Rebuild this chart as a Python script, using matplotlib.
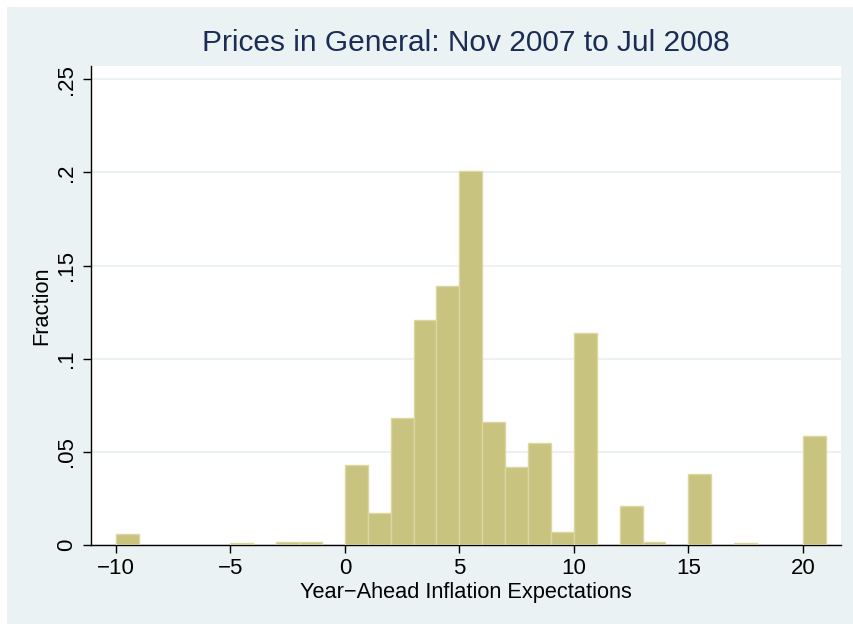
import matplotlib.pyplot as plt
from matplotlib.patches import Rectangle

# histogram bins (left edges, width 1) and fractions
bin_left = list(range(-10, 21))
fraction = [0.0061, 0, 0, 0, 0, 0.0009, 0, 0.0016, 0.0016, 0,
            0.0432, 0.0170, 0.0679, 0.1209, 0.1392, 0.2010, 0.0659, 0.0420, 0.0550, 0.0068,
            0.1138, 0, 0.0212, 0.0016, 0, 0.0382, 0, 0.0009, 0, 0,
            0.0587]
x_ticks = [-10, -5, 0, 5, 10, 15, 20]
y_ticks = [0, 0.05, 0.1, 0.15, 0.2, 0.25]
y_labels = ['0', '.05', '.1', '.15', '.2', '.25']

plt.rcParams['font.family'] = ['Liberation Sans', 'DejaVu Sans']

fig = plt.figure(figsize=(8.54, 6.24), dpi=100)
fig.patch.set_facecolor('white')
# stata-like graph region
fig.patches.append(Rectangle((7 / 854, 0), 1 - 7 / 854, 1 - 7 / 624,
                             transform=fig.transFigure, facecolor='#EAF2F3',
                             edgecolor='none', zorder=-10))

ax = fig.add_axes([91 / 854, 79 / 624, 750 / 854, 479 / 624])
ax.set_facecolor('white')

xs = [b for b, f in zip(bin_left, fraction) if f > 0]
hs = [f for f in fraction if f > 0]
ax.bar(xs, hs, width=1, align='edge', color='#C9C380', edgecolor='#DCD7A2',
       linewidth=1, zorder=3)

ax.set_xlim(-11.09, 21.67)
ax.set_ylim(0, 0.2571)

ax.set_xticks(x_ticks)
ax.set_yticks(y_ticks)
ax.set_yticklabels(y_labels, rotation=90, va='center')
ax.tick_params(axis='both', labelsize=16, direction='out', length=6,
               width=1, colors='black')
ax.tick_params(axis='y', pad=4)

ax.grid(axis='y', color='#EAF2F3', linewidth=1.5, zorder=0)
for s in ['top', 'right']:
    ax.spines[s].set_visible(False)
for s in ['left', 'bottom']:
    ax.spines[s].set_color('black')
    ax.spines[s].set_linewidth(1)

ax.set_xlabel('Year\u2212Ahead Inflation Expectations', fontsize=15.7, labelpad=2)
ax.set_ylabel('Fraction', fontsize=15.7, labelpad=3)
fig.text(0.5455, 0.931, 'Prices in General: Nov 2007 to Jul 2008',
         fontsize=21.5, color='#1C2D55', ha='center', va='center')

fig.savefig('out.png', dpi=100)
